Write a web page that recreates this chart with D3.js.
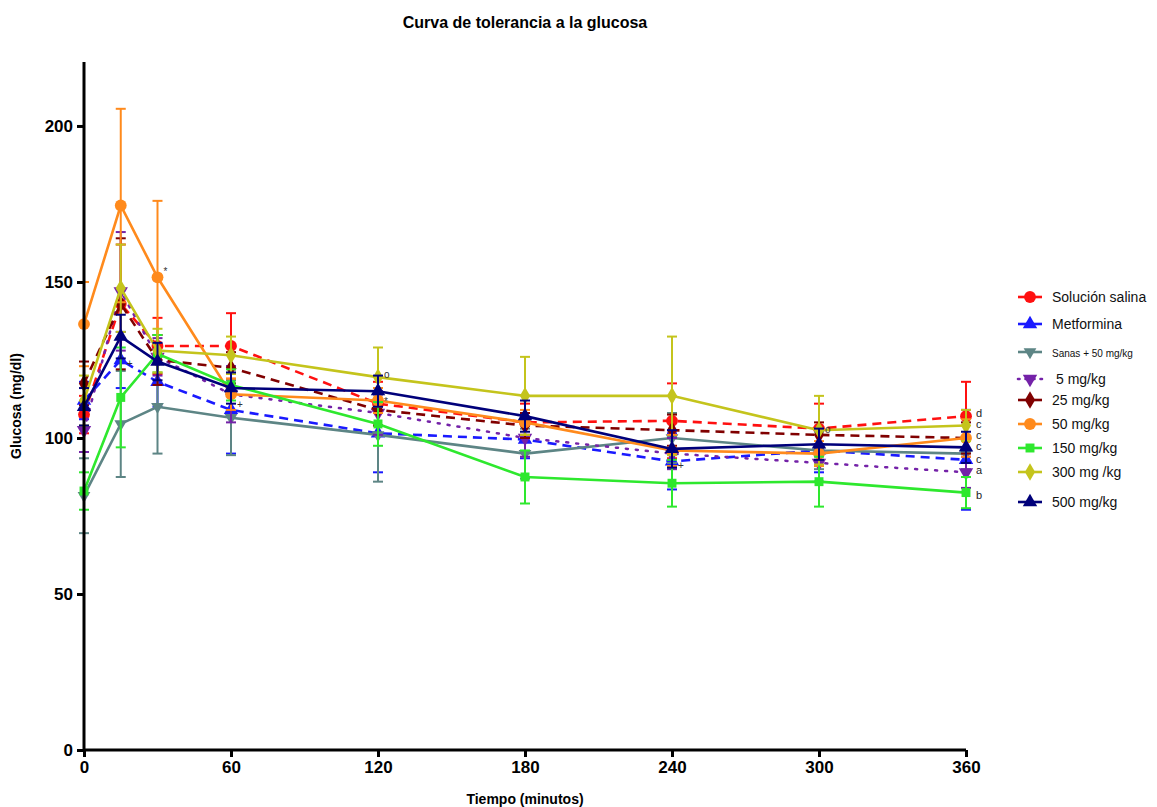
<!DOCTYPE html>
<html>
<head>
<meta charset="utf-8">
<script src="https://cdn.jsdelivr.net/npm/d3@7"></script>
<style>
  body { margin: 0; background: #fff; }
  svg text { font-family: "Liberation Sans", Arial, sans-serif; }
</style>
</head>
<body>
<div id="chart"></div>
<script>
// time points (minutes)
const tiempos = [0, 15, 30, 60, 120, 180, 240, 300, 360];
const xTicks = [0, 60, 120, 180, 240, 300, 360];
const yTicks = [0, 50, 100, 150, 200];

// mean glucose (mg/dl) per group
const salina     = [107.5, 143, 129.5, 129.5, 111, 105, 105.5, 103, 107];
const metformina = [112, 125, 118, 109, 101.5, 99.5, 92.5, 96, 93];
const sanas50    = [81.5, 104.5, 110, 106.5, 101, 95, 100, 96, 95];
const mg5        = [102.5, 147, 126, 114, 108, 100, 95, 92, 89];
const mg25       = [117.5, 143, 125, 122.5, 109, 104, 102.5, 101, 100];
const mg50       = [136.5, 174.5, 151.5, 114, 112, 105, 96, 95, 100];
const mg150      = [83, 113, 127, 117, 104.5, 87.5, 85.5, 86, 82.5];
const mg300      = [112, 148, 128, 126.5, 119.5, 113.5, 113.5, 102.5, 104];
const mg500      = [110, 132.5, 124.5, 116, 115, 107, 96.5, 98, 97];

// SEM per group
const salinaErr     = [6, 19, 9, 10.5, 7, 6, 12, 8, 11];
const metforminaErr = [6, 9, 8, 14, 12.5, 6, 9, 7, 16];
const sanas50Err    = [12, 17, 15, 12, 15, 8, 8, 6, 5];
const mg5Err        = [7, 19, 6, 9, 7, 6, 5, 6, 5];
const mg25Err       = [7, 21, 8, 5, 5, 4, 5, 4, 5];
const mg50Err       = [13.5, 31, 24.5, 5, 4, 4, 5, 4, 6];
const mg150Err      = [6, 16, 6, 5, 7, 8.5, 7.5, 8, 5];
const mg300Err      = [8, 14, 7, 6, 9.5, 12.5, 19, 11, 5];
const mg500Err      = [6, 7, 6, 5, 5, 5, 6, 5, 5];

const nombres = ["Solución salina", "Metformina", "Sanas + 50 mg/kg", "5 mg/kg", "25 mg/kg",
                 "50 mg/kg", "150 mg/kg", "300 mg /kg", "500 mg/kg"];
const letras = ["d", "c", "", "a", "c", "c", "b", "c", "c"];

const series = [
  {name: nombres[0], values: salina, err: salinaErr, color: "#ff1010", dash: "9,6", sym: d3.symbolCircle, size: 110, letter: letras[0]},
  {name: nombres[1], values: metformina, err: metforminaErr, color: "#1a1aff", dash: "9,6", sym: d3.symbolTriangle, size: 90, letter: letras[1]},
  {name: nombres[2], values: sanas50, err: sanas50Err, color: "#5d8585", dash: null, sym: d3.symbolTriangle, size: 70, rot: 180, letter: letras[2]},
  {name: nombres[3], values: mg5, err: mg5Err, color: "#7422a8", dash: "2,8", sym: d3.symbolTriangle, size: 90, rot: 180, letter: letras[3]},
  {name: nombres[4], values: mg25, err: mg25Err, color: "#800000", dash: "9,6", sym: d3.symbolDiamond, size: 90, letter: letras[4]},
  {name: nombres[5], values: mg50, err: mg50Err, color: "#ff8a1c", dash: null, sym: d3.symbolCircle, size: 110, letter: letras[5]},
  {name: nombres[6], values: mg150, err: mg150Err, color: "#2ee82e", dash: null, sym: d3.symbolSquare, size: 80, letter: letras[6]},
  {name: nombres[7], values: mg300, err: mg300Err, color: "#c4c41c", dash: null, sym: d3.symbolDiamond, size: 90, letter: letras[7]},
  {name: nombres[8], values: mg500, err: mg500Err, color: "#00007a", dash: null, sym: d3.symbolTriangle, size: 90, letter: letras[8]}
];

const width = 1157, height = 807;
const margin = {top: 62, right: 191, bottom: 57, left: 84};

const svg = d3.select("#chart").append("svg")
  .attr("width", width)
  .attr("height", height);

const x = d3.scaleLinear().domain([0, 360]).range([margin.left, width - margin.right]);
const y = d3.scaleLinear().domain([0, 220.5]).range([height - margin.bottom, margin.top]);

// title
svg.append("text")
  .attr("x", 525).attr("y", 28)
  .attr("text-anchor", "middle")
  .attr("font-size", 16).attr("font-weight", "bold")
  .text("Curva de tolerancia a la glucosa");

// series (error bars, lines, markers)
const line = d3.line().x((d, i) => x(tiempos[i])).y(d => y(d));

series.forEach(s => {
  const g = svg.append("g").attr("class", "serie");
  // error bars
  s.values.forEach((v, i) => {
    const cx = x(tiempos[i]);
    const lo = y(v - s.err[i]), hi = y(v + s.err[i]);
    g.append("line").attr("x1", cx).attr("x2", cx).attr("y1", lo).attr("y2", hi)
      .attr("stroke", s.color).attr("stroke-width", 2);
    [lo, hi].forEach(yy => g.append("line")
      .attr("x1", cx - 5).attr("x2", cx + 5).attr("y1", yy).attr("y2", yy)
      .attr("stroke", s.color).attr("stroke-width", 2));
  });
  g.append("path")
    .datum(s.values)
    .attr("d", line)
    .attr("fill", "none")
    .attr("stroke", s.color)
    .attr("stroke-width", s.dash === "2,8" ? 2.5 : 2.6)
    .attr("stroke-linecap", s.dash === "2,8" ? "round" : "butt")
    .attr("stroke-dasharray", s.dash);
  g.selectAll("path.pt")
    .data(s.values)
    .enter().append("path")
    .attr("class", "pt")
    .attr("d", d3.symbol().type(s.sym).size(s.size))
    .attr("transform", (d, i) => `translate(${x(tiempos[i])},${y(d)}) rotate(${s.rot || 0})`)
    .attr("fill", s.color);
});

// significance letters at 360 min
const letterY = [413, 424, 435, 446, 459, 470, 495];
const letterOrder = [0, 7, 5, 8, 1, 3, 6];
letterOrder.forEach((si, k) => {
  svg.append("text")
    .attr("x", x(360) + 10).attr("y", letterY[k] + 4)
    .attr("font-size", 11)
    .attr("fill", "#222")
    .text(series[si].letter);
});

// small marks near points
const marcas = [
  {t: 30, v: mg50[2] + 2, txt: "*"},
  {t: 15, v: metformina[1] - 1, txt: "+"},
  {t: 60, v: mg5[3] - 3, txt: "+"},
  {t: 120, v: mg300[4] + 1, txt: "o"},
  {t: 120, v: mg50[4], txt: "*"},
  {t: 240, v: metformina[6] - 1, txt: "+"},
  {t: 300, v: salina[7], txt: "o"}
];
marcas.forEach(m => svg.append("text")
  .attr("x", x(m.t) + 6).attr("y", y(m.v) + 4)
  .attr("font-size", 10).attr("fill", "#333")
  .text(m.txt));

// axes
const yAxis = d3.axisLeft(y).tickValues(yTicks).tickSize(7).tickPadding(4);
const xAxis = d3.axisBottom(x).tickValues(xTicks).tickSize(7).tickPadding(4);

const gy = svg.append("g")
  .attr("transform", `translate(${margin.left},0)`)
  .call(yAxis);
const gx = svg.append("g")
  .attr("transform", `translate(0,${height - margin.bottom})`)
  .call(xAxis);

[gx, gy].forEach(g => {
  g.select(".domain").attr("stroke", "#000").attr("stroke-width", 3);
  g.selectAll(".tick line").attr("stroke", "#000").attr("stroke-width", 3);
  g.selectAll(".tick text").attr("font-size", 17).attr("font-weight", "bold")
    .attr("font-family", "Liberation Sans, Arial, sans-serif").attr("fill", "#000");
});
gx.select(".domain").attr("d", `M${x(0)},0H${x(360)}`);
gy.select(".domain").attr("d", `M0,${y(220.5)}V${y(0)}`);

svg.append("text")
  .attr("x", 525).attr("y", 804)
  .attr("text-anchor", "middle")
  .attr("font-size", 14).attr("font-weight", "bold")
  .text("Tiempo (minutos)");

svg.append("text")
  .attr("transform", "rotate(-90)")
  .attr("x", -406).attr("y", 21)
  .attr("text-anchor", "middle")
  .attr("font-size", 14).attr("font-weight", "bold")
  .text("Glucosa (mg/dl)");

// legend
const legY = [297, 324, 352, 379, 400, 424, 448, 472, 502];
const legend = svg.append("g");
series.forEach((s, i) => {
  const lg = legend.append("g").attr("transform", `translate(1030,${legY[i]})`);
  lg.append("line").attr("x1", -12).attr("x2", 12)
    .attr("stroke", s.color).attr("stroke-width", 2.6)
    .attr("stroke-dasharray", s.dash === "2,8" ? "1.5,6" : null)
    .attr("stroke-linecap", s.dash === "2,8" ? "round" : "butt");
  lg.append("path")
    .attr("d", d3.symbol().type(s.sym).size(s.size))
    .attr("transform", `rotate(${s.rot || 0})`)
    .attr("fill", s.color);
  lg.append("text")
    .attr("x", i === 3 ? 26 : 22).attr("y", 5)
    .attr("font-size", i === 2 ? 10 : 14)
    .attr("fill", "#111")
    .text(s.name);
});
</script>
</body>
</html>
